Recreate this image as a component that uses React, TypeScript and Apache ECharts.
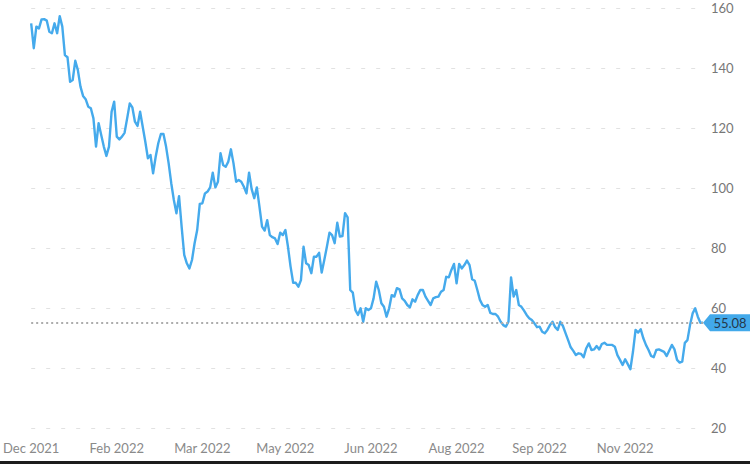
import React, { useEffect, useRef } from "react";
import * as echarts from "echarts";

const tickLabels = ["Dec 2021", "Feb 2022", "Mar 2022", "May 2022", "Jun 2022", "Aug 2022", "Sep 2022", "Nov 2022"];
const tickIndices = [0, 33, 66, 98, 131, 164, 196, 229];
const yTicks = [20, 40, 60, 80, 100, 120, 140, 160];
const lastPrice = 55.08;

const pricesDecFeb = [
  154.9, 146.6, 153.8, 153.2, 156.2, 156.3, 155.8, 152.1, 151.6, 154.9,
  151.6, 157.3, 153.8, 144.3, 143.6, 135.4, 136, 142.4, 139.3, 133.8,
  130.7, 129.6, 127.1, 126.6, 123.2, 113.8, 121.6, 117.7, 113.8, 110.7,
  113.8, 125.4, 128.8, 117.1, 116.2, 117.1, 118.4, 123.2, 128.2, 126.9,
  122.1, 120.7, 125.4, 120.4, 115.4, 109.9, 111, 104.9, 110.4, 114.9,
  118, 118, 113.8, 108.2, 101.6, 96, 91.6, 97.3, 87.1, 77.7,
  74.9, 73.2, 76, 81.6, 86, 94.7, 94.9, 98.2,
];
const pricesMarJun = [
  98.8, 100.2, 105.1, 100.2, 102.1, 111.6, 107.7, 107.1, 108.8, 112.9,
  108.2, 102.1, 102.7, 102.1, 100.4, 98.2, 105.1, 99.6, 96.6, 100.2,
  93.8, 87.1, 85.8, 89.3, 84.3, 83.6, 83.2, 81.3, 85.1, 84.3,
  86, 80.4, 73.8, 68.4, 68.4, 67.1, 69.3, 80.4, 74.9, 74.3,
  71.6, 77.1, 77.1, 78.4, 71.8, 76, 80.4, 85.1, 84.3, 81.6,
  88.4, 83.8, 84, 91.6, 90.2, 66, 65.1, 59.3, 57.7, 59.9,
  55.4,
];
const pricesJunSep = [
  59.9, 59.3, 59.9, 63.2, 68.8, 66, 61.6, 60.4, 57.1, 59.9,
  64.3, 63.8, 66.6, 66.2, 63.2, 62.4, 61, 60.2, 62.9, 62.1,
  64.3, 66, 66, 63.8, 62.4, 61, 63.2, 63.6, 63.8, 65.4,
  66, 70.4, 70.2, 72.7, 74.7, 68.2, 74.7, 73.2, 74.3, 75.8,
  74.3, 69.6, 69.1, 66, 62.7, 61, 60.4, 61, 58.4, 58,
  58, 57.1, 55.4, 54.3, 53.8, 55.4, 70.2, 63.8, 66, 61,
  60.4, 59.1, 57.7, 56.6,
];
const pricesSepDec = [
  56, 54.9, 53.6, 53.8, 52.1, 51.6, 52.7, 54.3, 55.4, 53.6,
  52.7, 55.4, 54, 51.6, 49.3, 46.9, 45.7, 44.3, 44.9, 44.7,
  43.6, 46.6, 48.2, 46, 46.2, 47.3, 46.2, 48, 48.4, 47.7,
  47.7, 47.7, 47.1, 44.3, 42.7, 41, 42.9, 41.3, 39.6, 45.4,
  52.7, 51.8, 52.9, 49.9, 47.7, 46, 44, 43.6, 46, 46.2,
  45.8, 45.4, 44, 45.8, 47.7, 46.2, 42.7, 41.8, 42.1, 48.4,
  49.3, 54.3, 58.2, 59.9, 57.1, 55.1, 55.08,
];

const prices = [...pricesDecFeb, ...pricesMarJun, ...pricesJunSep, ...pricesSepDec];
const categories = prices.map((_, i) => String(i));

const FONT = "Lato, 'Noto Sans', sans-serif";

export default function App() {
  const ref = useRef<HTMLDivElement>(null);

  useEffect(() => {
    document.body.style.margin = "0";
    if (!ref.current) return;
    const chart = echarts.init(ref.current, null, { renderer: "svg" });
    chart.setOption({
      animation: false,
      backgroundColor: "#ffffff",
      grid: { left: 27, right: 47, top: 8, bottom: 36, containLabel: false },
      xAxis: {
        type: "category",
        data: categories,
        boundaryGap: false,
        axisLine: { show: false },
        axisTick: { show: false },
        splitLine: { show: false },
        axisLabel: {
          interval: (i: number) => tickIndices.includes(i),
          formatter: (_v: string, i: number) => {
            const k = tickIndices.indexOf(i);
            return k >= 0 ? tickLabels[k] : "";
          },
          color: "#8a8a8a",
          fontSize: 13,
          fontFamily: FONT,
          margin: 13,
        },
      },
      yAxis: {
        type: "value",
        position: "right",
        min: yTicks[0],
        max: yTicks[yTicks.length - 1],
        interval: 20,
        axisLine: { show: false },
        axisTick: { show: false },
        axisLabel: {
          color: "#777777",
          fontSize: 13,
          fontFamily: FONT,
          margin: 8,
        },
        splitLine: {
          show: true,
          lineStyle: { color: "#e2e2e2", width: 1, type: [4, 11] },
        },
      },
      series: [
        {
          type: "line",
          data: prices,
          showSymbol: false,
          symbol: "none",
          lineStyle: { color: "#45aaec", width: 2.4, join: "round" },
          markLine: {
            silent: true,
            symbol: ["none", "none"],
            label: { show: false },
            lineStyle: { color: "#acacac", type: [2, 3], width: 2 },
            data: [{ yAxis: lastPrice }],
          },
          markPoint: {
            silent: true,
            symbol: "path://M0,8.5 L7,0 L48,0 L48,17 L7,17 Z",
            symbolSize: [48, 17],
            symbolOffset: [24, 0],
            itemStyle: { color: "#42a9ea" },
            label: {
              show: true,
              position: "inside",
              offset: [3, 0],
              color: "#25384a",
              fontSize: 13,
              fontFamily: FONT,
              formatter: () => lastPrice.toFixed(2),
            },
            data: [{ coord: [String(prices.length - 1), lastPrice], value: lastPrice }],
          },
        },
      ],
      graphic: [
        {
          type: "rect",
          left: 0,
          top: 461,
          shape: { width: 750, height: 3 },
          style: { fill: "#1c1c1c" },
          silent: true,
        },
      ],
    });
    return () => chart.dispose();
  }, []);

  return (
    <div
      ref={ref}
      style={{ position: "absolute", left: 0, top: 0, width: 750, height: 464 }}
    />
  );
}
